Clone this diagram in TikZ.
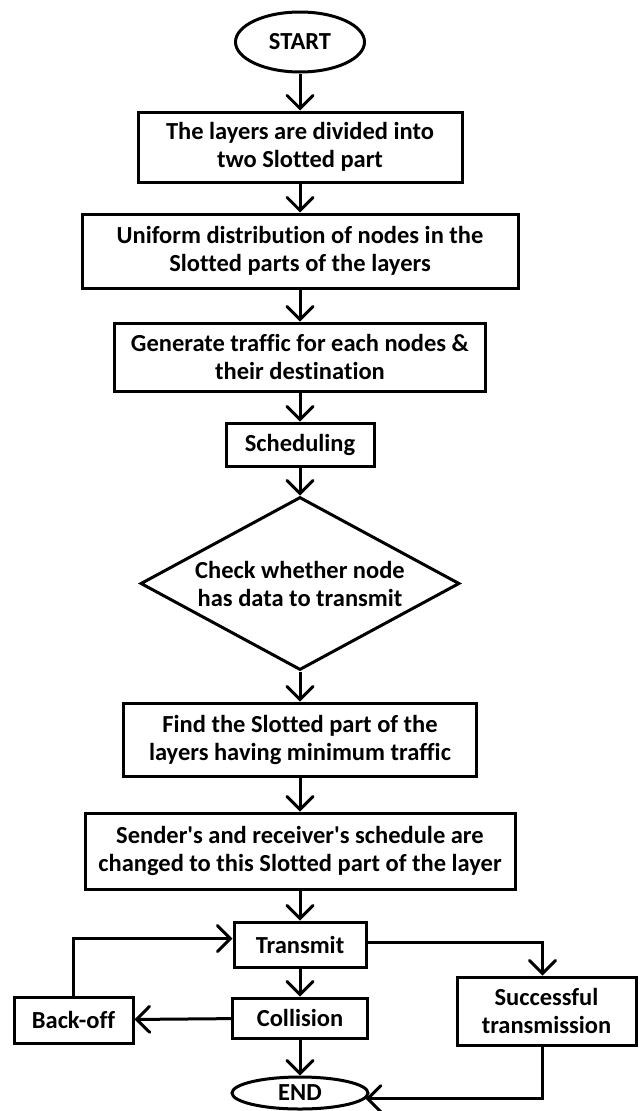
\documentclass[tikz,border=0pt]{standalone}
\usepackage{fontspec}
\setmainfont{Carlito}[Ligatures={TeXOff,CommonOff}]
\usetikzlibrary{shapes.geometric,arrows.meta}
\begin{document}
\begin{tikzpicture}[x=1pt,y=-1pt,
  every node/.style={font=\bfseries\fontsize{24.5}{28}\selectfont, text=black},
  box/.style={draw, line width=3pt, rectangle, align=center, inner sep=0pt},
  term/.style={draw, line width=3pt, ellipse, inner sep=0pt},
  dec/.style={draw, line width=3pt, diamond, aspect=1.84, align=center, inner sep=0pt},
  arr/.style={line width=3pt, -{Straight Barb[length=13pt,width=26pt,line cap=round]}},
  ln/.style={line width=3pt}]
\useasboundingbox (0,0) rectangle (640,1111);
\node[term, minimum width=129pt, minimum height=60pt] (start) at (300,42) {START};
\node[box, minimum width=324pt, minimum height=70pt] (b1) at (300,147) {The layers are divided into\\ two Slotted part};
\node[box, minimum width=436pt, minimum height=74pt] (b2) at (300,251) {Uniform distribution of nodes in the\\ Slotted parts of the layers};
\node[box, minimum width=371pt, minimum height=68pt] (b3) at (300,357) {Generate traffic for each nodes \&\\ their destination};
\node[box, minimum width=148pt, minimum height=43pt] (sched) at (300,444.5) {Scheduling};
\node[dec, minimum width=319pt, minimum height=173pt] (dia) at (300,583.5) {Check whether node\\ has data to transmit};
\node[box, minimum width=353pt, minimum height=73pt] (find) at (300,739.5) {Find the Slotted part of the\\ layers having minimum traffic};
\node[box, minimum width=430pt, minimum height=76pt] (send) at (300,851) {Sender's and receiver's schedule are\\ changed to this Slotted part of the layer};
\node[box, minimum width=132pt, minimum height=45pt] (tx) at (300,944.5) {Transmit};
\node[box, minimum width=135pt, minimum height=40pt] (col) at (300,1018) {Collision};
\node[box, minimum width=119pt, minimum height=46pt] (back) at (73.5,1020) {Back-off};
\node[box, minimum width=179pt, minimum height=68pt] (succ) at (546.5,1011) {Successful\\ transmission};
\node[term, minimum width=136pt, minimum height=32pt] (end) at (300,1093) {END};
\draw[arr] (start) -- (b1);
\draw[arr] (b1) -- (b2);
\draw[arr] (b2) -- (b3);
\draw[arr] (b3) -- (sched);
\draw[arr] (sched) -- (dia);
\draw[arr] (dia) -- (find);
\draw[arr] (find) -- (send);
\draw[arr] (send) -- (tx);
\draw[arr] (tx) -- (col);
\draw[arr] (col) -- (end);
\draw[arr] (col) -- (back);
\draw[arr] (back.north) |- ([yshift=6pt]tx.west);
\draw[arr] ([yshift=2pt]tx.east) -| ([xshift=-4pt]succ.north);
\draw[arr] ([xshift=-4pt]succ.south) |- (end.-5);
\end{tikzpicture}
\end{document}
